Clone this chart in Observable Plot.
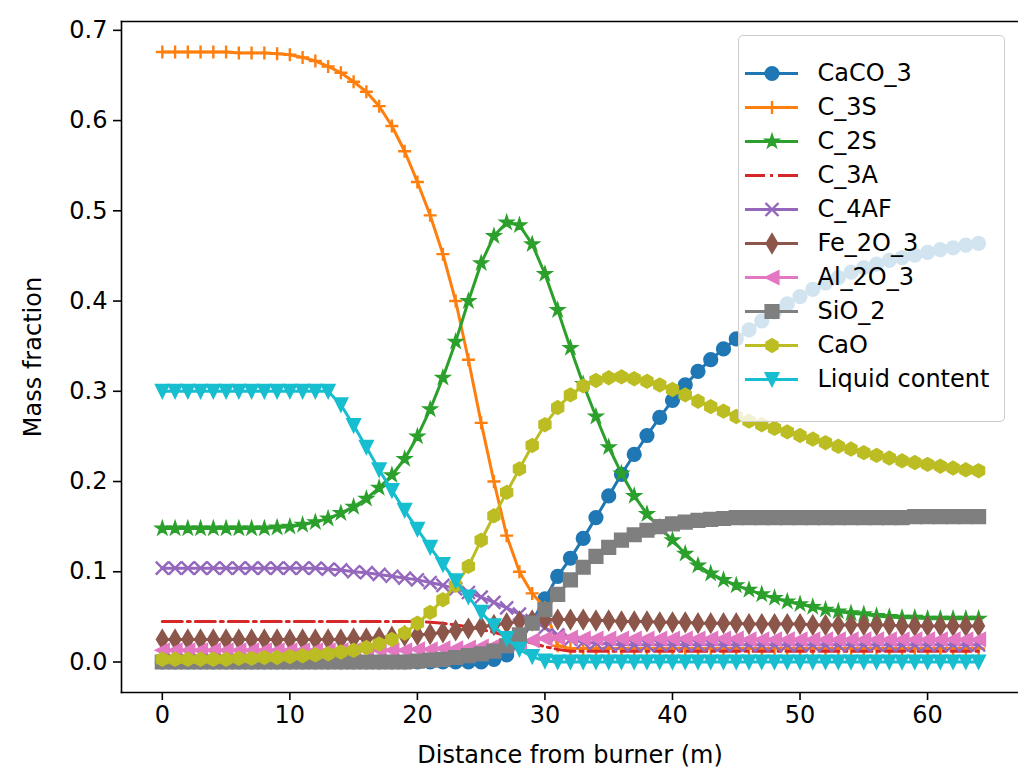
<!DOCTYPE html>
<html>
<head>
<meta charset="utf-8">
<script src="https://cdn.jsdelivr.net/npm/d3@7"></script>
<script src="https://cdn.jsdelivr.net/npm/@observablehq/plot@0.6"></script>
<style>
  body { margin: 0; background: #fff; }
  #wrap { position: relative; width: 1018px; height: 768px; overflow: hidden; }
  #legend {
    position: absolute; left: 738px; top: 35px; width: 267px; height: 387px;
    background: rgba(255,255,255,0.8); border: 1.5px solid #cccccc; border-radius: 5px;
    box-sizing: border-box;
  }
</style>
</head>
<body>
<div id="wrap"><div id="legend"></div></div>
<script>
// Distance along the kiln (m), one sample per metre
const distance = [0,1,2,3,4,5,6,7,8,9,10,11,12,13,14,15,16,17,18,19,20,21,22,23,24,25,26,27,28,29,30,31,32,33,34,35,36,37,38,39,40,41,42,43,44,45,46,47,48,49,50,51,52,53,54,55,56,57,58,59,60,61,62,63,64];

// Mass fractions per phase
const caco3 = [0,0,0,0,0,0,0,0,0,0,0,0,0,0,0,0,0,0,0,0,0,0,0,0,0,
  0.000,0.003,0.008,0.020,0.045,0.070,0.095,0.115,0.137,0.160,0.184,0.208,0.230,0.251,0.271,
  0.290,0.307,0.322,0.335,0.347,0.358,0.368,0.378,0.388,0.397,0.405,0.413,0.420,0.426,0.432,
  0.437,0.441,0.445,0.448,0.451,0.454,0.457,0.459,0.462,0.464];
const c3s = [0.676,0.676,0.676,0.676,0.676,0.676,0.675,0.675,0.675,0.674,0.673,0.670,0.666,0.660,0.653,
  0.643,0.632,0.616,0.594,0.566,0.532,0.495,0.452,0.400,0.335,0.265,0.200,0.140,0.100,0.076,0.060,0.018,
  0.015,0.015,0.015,0.015,0.015,0.015,0.015,0.015,0.015,0.015,0.015,0.015,0.015,0.015,0.015,0.015,0.015,
  0.015,0.015,0.015,0.015,0.015,0.015,0.015,0.015,0.015,0.015,0.015,0.015,0.015,0.015,0.015,0.015];
const c2s = [0.148,0.148,0.148,0.148,0.148,0.148,0.148,0.148,0.148,0.149,0.150,0.152,0.155,0.159,0.165,
  0.172,0.181,0.193,0.207,0.225,0.250,0.280,0.315,0.355,0.400,0.442,0.472,0.487,0.484,0.463,0.430,0.390,
  0.348,0.308,0.272,0.238,0.209,0.184,0.164,0.149,0.135,0.120,0.107,0.098,0.091,0.085,0.080,0.075,0.071,
  0.067,0.064,0.061,0.058,0.056,0.054,0.053,0.051,0.050,0.049,0.049,0.048,0.048,0.048,0.048,0.048];
const c3a = [0.045,0.045,0.045,0.045,0.045,0.045,0.045,0.045,0.045,0.045,0.045,0.045,0.045,0.045,0.045,
  0.045,0.045,0.045,0.045,0.045,0.045,0.044,0.043,0.041,0.039,0.036,0.033,0.029,0.025,0.021,0.017,0.014,
  0.012,0.012,0.012,0.012,0.012,0.012,0.012,0.012,0.012,0.012,0.012,0.012,0.012,0.012,0.012,0.012,0.012,
  0.012,0.012,0.012,0.012,0.012,0.012,0.012,0.012,0.012,0.012,0.012,0.012,0.012,0.012,0.012,0.012];
const c4af = [0.104,0.104,0.104,0.104,0.104,0.104,0.104,0.104,0.104,0.104,0.104,0.104,0.104,0.103,0.102,
  0.100,0.099,0.097,0.095,0.093,0.091,0.088,0.085,0.081,0.077,0.072,0.066,0.060,0.053,0.046,0.038,0.030,
  0.025,0.022,0.021,0.020,0.019,0.019,0.019,0.019,0.019,0.019,0.019,0.019,0.019,0.019,0.019,0.019,0.019,
  0.019,0.019,0.019,0.019,0.019,0.019,0.019,0.019,0.019,0.019,0.019,0.019,0.019,0.019,0.019,0.019];
const fe2o3 = [0.025,0.025,0.025,0.025,0.025,0.025,0.025,0.025,0.025,0.025,0.025,0.025,0.025,0.025,0.025,
  0.026,0.026,0.027,0.028,0.029,0.030,0.031,0.033,0.035,0.037,0.039,0.041,0.043,0.045,0.046,0.047,0.047,
  0.047,0.047,0.046,0.046,0.045,0.045,0.045,0.044,0.044,0.044,0.043,0.043,0.043,0.043,0.042,0.042,0.042,
  0.042,0.042,0.041,0.041,0.041,0.041,0.041,0.041,0.041,0.040,0.040,0.040,0.040,0.040,0.040,0.040];
const al2o3 = [0.013,0.013,0.013,0.013,0.013,0.013,0.013,0.013,0.013,0.013,0.013,0.013,0.013,0.013,0.013,
  0.013,0.013,0.013,0.013,0.013,0.014,0.014,0.015,0.015,0.016,0.017,0.018,0.020,0.022,0.024,0.026,0.027,
  0.027,0.026,0.026,0.026,0.026,0.026,0.026,0.026,0.026,0.026,0.026,0.026,0.026,0.026,0.025,0.025,0.025,
  0.025,0.025,0.025,0.025,0.025,0.025,0.025,0.025,0.025,0.025,0.025,0.025,0.025,0.025,0.025,0.025];
const sio2 = [0,0,0,0,0,0,0,0,0,0,0,0,0,0,0,0,0,0,0,0,
  0.001,0.002,0.003,0.005,0.007,0.009,0.012,0.018,0.030,0.043,0.058,0.075,0.091,0.105,0.117,0.127,0.135,
  0.141,0.146,0.150,0.153,0.155,0.157,0.158,0.159,0.160,0.160,0.160,0.160,0.160,0.160,0.160,0.160,0.160,
  0.160,0.160,0.160,0.160,0.160,0.161,0.161,0.161,0.161,0.161,0.161];
const cao = [0.003,0.003,0.003,0.003,0.003,0.003,0.004,0.004,0.005,0.005,0.006,0.007,0.008,0.009,0.011,
  0.013,0.016,0.020,0.025,0.032,0.043,0.055,0.069,0.085,0.106,0.135,0.162,0.188,0.214,0.240,0.263,0.282,
  0.296,0.306,0.312,0.315,0.316,0.314,0.311,0.307,0.302,0.296,0.289,0.283,0.278,0.272,0.267,0.263,0.259,
  0.255,0.251,0.247,0.243,0.239,0.236,0.232,0.229,0.226,0.223,0.221,0.219,0.217,0.215,0.213,0.212];
const liquid = [0.300,0.300,0.300,0.300,0.300,0.300,0.300,0.300,0.300,0.300,0.300,0.300,0.300,0.300,0.285,
  0.262,0.238,0.213,0.190,0.168,0.147,0.127,0.108,0.090,0.072,0.055,0.040,0.026,0.014,0.006,0.001,0,
  0,0,0,0,0,0,0,0,0,0,0,0,0,0,0,0,0,0,0,0,0,0,0,0,0,0,0,0,0,0,0,0,0];

const seriesNames = ["CaCO_3","C_3S","C_2S","C_3A","C_4AF","Fe_2O_3","Al_2O_3","SiO_2","CaO","Liquid content"];
const seriesValues = [caco3, c3s, c2s, c3a, c4af, fe2o3, al2o3, sio2, cao, liquid];
const seriesColors = ["#1f77b4","#ff7f0e","#2ca02c","#d62728","#9467bd","#8c564b","#e377c2","#7f7f7f","#bcbd22","#17becf"];
const seriesMarkers = ["circle","plus","star",null,"times","thinDiamond","triangleLeft","square","hexagon","triangleDown"];

const xTicks = [0,10,20,30,40,50,60];
const yTicks = [0,0.1,0.2,0.3,0.4,0.5,0.6,0.7];

// Marker shapes in the style of matplotlib ("o", "+", "*", "x", "d", "<", "s", "h", "v")
const R = s => Math.sqrt(s / Math.PI);
function poly(c, pts) { pts.forEach(([x, y], i) => i ? c.lineTo(x, y) : c.moveTo(x, y)); c.closePath(); }
const symbols = {
  circle: "circle",
  plus: {draw(c, s) { const r = R(s); c.moveTo(-r, 0); c.lineTo(r, 0); c.moveTo(0, -r); c.lineTo(0, r); }},
  times: {draw(c, s) { const r = R(s); c.moveTo(-r, -r); c.lineTo(r, r); c.moveTo(-r, r); c.lineTo(r, -r); }},
  star: {draw(c, s) {
    const r = R(s) * 1.05, ri = r * 0.381966, pts = [];
    for (let i = 0; i < 10; i++) { const a = Math.PI * i / 5 - Math.PI / 2, rr = i % 2 ? ri : r; pts.push([rr * Math.cos(a), rr * Math.sin(a)]); }
    poly(c, pts);
  }},
  thinDiamond: {draw(c, s) { const r = R(s); poly(c, [[0, -1.414 * r], [0.849 * r, 0], [0, 1.414 * r], [-0.849 * r, 0]]); }},
  triangleLeft: {draw(c, s) { const r = R(s); poly(c, [[-r, 0], [r, -r], [r, r]]); }},
  triangleDown: {draw(c, s) { const r = R(s); poly(c, [[0, r], [-r, -r], [r, -r]]); }},
  square: {draw(c, s) { const r = R(s); poly(c, [[-r, -r], [r, -r], [r, r], [-r, r]]); }},
  hexagon: {draw(c, s) {
    const r = R(s), pts = [];
    for (let i = 0; i < 6; i++) { const a = Math.PI * i / 3 - Math.PI / 2; pts.push([r * Math.cos(a), r * Math.sin(a)]); }
    poly(c, pts);
  }}
};
const openMarkers = new Set(["plus", "times"]);
const dashFor = name => name === "C_3A" ? "20,5,3,5" : null;

const markerR = 6.8;
const openR = 6.5;
const seriesMarks = [];
seriesNames.forEach((name, i) => {
  const rows = distance.map((x, j) => ({x, y: seriesValues[i][j]}));
  const color = seriesColors[i];
  seriesMarks.push(Plot.line(rows, {x: "x", y: "y", stroke: color, strokeWidth: 3, strokeDasharray: dashFor(name)}));
  const m = seriesMarkers[i];
  if (m) {
    const open = openMarkers.has(m);
    seriesMarks.push(Plot.dot(rows, {
      x: "x", y: "y", r: open ? openR : markerR, symbol: symbols[m],
      fill: open ? "none" : color, stroke: color, strokeWidth: open ? 2.4 : 1.6
    }));
  }
});

const chart = Plot.plot({
  width: 1018, height: 768,
  marginLeft: 121, marginRight: 0, marginTop: 21, marginBottom: 76,
  style: {fontFamily: "DejaVu Sans, sans-serif", fontSize: "24px", color: "#000", background: "transparent"},
  x: {domain: [-3.2, 67.13]},
  y: {domain: [-0.0338, 0.7098]},
  marks: [
    ...seriesMarks,
    Plot.frame({anchor: "left", stroke: "#000", strokeWidth: 1.6}),
    Plot.frame({anchor: "bottom", stroke: "#000", strokeWidth: 1.6}),
    Plot.frame({anchor: "top", stroke: "#000", strokeWidth: 1.6}),
    Plot.axisX({ticks: xTicks, tickFormat: d3.format("d"), tickSize: 8, tickPadding: 5, strokeWidth: 1.6,
      label: "Distance from burner (m)", labelAnchor: "center", labelArrow: "none", labelOffset: 70}),
    Plot.axisY({ticks: yTicks, tickFormat: d3.format(".1f"), tickSize: 8, tickPadding: 6, strokeWidth: 1.6,
      label: "Mass fraction", labelAnchor: "center", labelArrow: "none", labelOffset: 98})
  ]
});
document.getElementById("wrap").insertBefore(chart, document.getElementById("legend"));

// Legend: one row per phase, swatch line with its marker, then the name
const legendRows = seriesNames.map((name, i) => ({name, color: seriesColors[i], marker: seriesMarkers[i]}));
const legendMarks = [];
legendRows.forEach(d => {
  legendMarks.push(Plot.ruleY([d.name], {x1: 6, x2: 59, stroke: d.color, strokeWidth: 3, strokeDasharray: dashFor(d.name)}));
  if (d.marker) {
    const open = openMarkers.has(d.marker);
    legendMarks.push(Plot.dot([d.name], {x: 32.5, y: d => d, r: open ? openR : markerR, symbol: symbols[d.marker],
      fill: open ? "none" : d.color, stroke: d.color, strokeWidth: open ? 2.4 : 1.6}));
  }
});
legendMarks.push(Plot.text(legendRows, {x: 78, y: "name", text: "name", textAnchor: "start", fill: "#000"}));
const legend = Plot.plot({
  width: 264, height: 384, margin: 0,
  style: {fontFamily: "DejaVu Sans, sans-serif", fontSize: "24px", background: "transparent"},
  x: {domain: [0, 264], range: [0, 264], axis: null},
  y: {type: "point", domain: seriesNames, range: [18.5, 361.5], axis: null},
  marks: legendMarks
});
document.getElementById("legend").appendChild(legend);
</script>
</body>
</html>
